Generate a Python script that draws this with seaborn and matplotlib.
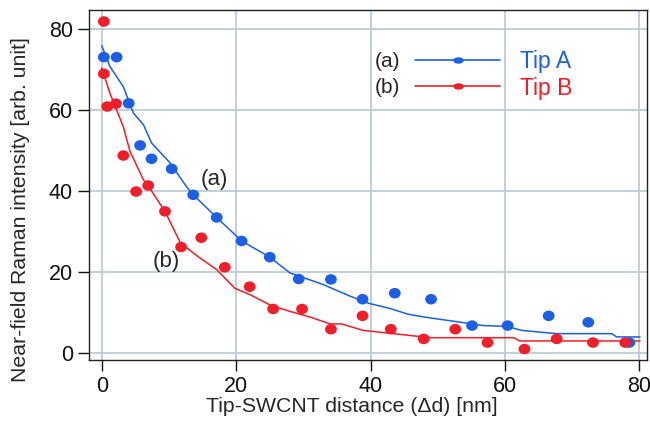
import pandas as pd
import seaborn as sns
import matplotlib.pyplot as plt
from matplotlib.lines import Line2D
from matplotlib.path import Path
from matplotlib.transforms import Affine2D

# measured points
tip_a_x = [0.3, 2.2, 4.0, 5.7, 7.4, 10.4, 13.6, 17.1, 20.8, 25.0, 29.3, 34.1,
           38.8, 43.6, 49.0, 55.1, 60.4, 66.5, 72.4, 78.5]
tip_a_y = [73.1, 73.1, 61.7, 51.3, 48.0, 45.5, 39.1, 33.5, 27.7, 23.7, 18.3, 18.2,
           13.3, 14.8, 13.3, 6.8, 6.8, 9.2, 7.6, 2.6]

tip_b_x = [0.3, 0.3, 0.8, 2.1, 3.2, 5.1, 6.9, 9.4, 11.8, 14.8, 18.3, 22.0, 25.5,
           29.8, 34.1, 38.8, 43.0, 47.9, 52.6, 57.4, 62.9, 67.7, 73.1, 77.9]
tip_b_y = [81.9, 69.0, 60.9, 61.6, 48.8, 39.9, 41.4, 35.0, 26.2, 28.5, 21.2, 16.4, 10.9,
           10.9, 5.9, 9.2, 5.9, 3.5, 5.9, 2.6, 1.0, 3.5, 2.6, 2.6]

# fitted curves
fit_a_x = [0.0, 1.2, 3.2, 4.7, 6.2, 7.4, 10.2, 12.6, 13.6, 17.1, 20.8, 25.0, 28.0,
           33.0, 34.5, 36.9, 39.7, 42.7, 45.6, 48.4, 51.8, 56.8, 60.3, 62.5, 67.7,
           75.9, 76.6, 80.1]
fit_a_y = [75.9, 70.8, 65.8, 59.3, 56.4, 51.9, 46.9, 41.1, 39.1, 33.5, 27.7, 23.7, 19.8,
           16.9, 15.8, 14.1, 12.3, 11.1, 9.6, 8.8, 8.0, 6.8, 6.6, 5.6, 4.8,
           4.8, 4.0, 4.0]

fit_b_x = [0.0, 1.2, 3.2, 4.2, 6.2, 6.9, 9.4, 11.7, 14.6, 17.1, 19.8, 22.1, 25.0,
           28.0, 31.0, 34.0, 35.7, 38.9, 43.4, 48.9, 61.3, 62.2, 80.1]
fit_b_y = [70.4, 64.2, 55.9, 49.8, 42.8, 41.3, 35.0, 27.2, 23.5, 20.6, 16.0, 14.4, 11.9,
           10.3, 8.9, 7.2, 7.2, 5.6, 4.8, 3.8, 3.8, 3.0, 3.0]

blue = '#1d5ee6'
red = '#f01e28'

# slightly flattened dots like the original
dot = Path.unit_circle().transformed(Affine2D().scale(1.12, 1.0))
small_dot = Path.unit_circle().transformed(Affine2D().scale(1.8, 1.0))

sns.set_style('ticks')
plt.rcParams['font.family'] = ['Liberation Sans', 'DejaVu Sans']

fig = plt.figure(figsize=(6.5, 4.24), dpi=100)
ax = fig.add_axes([0.137, 0.151, 0.858, 0.825])

ax.grid(True, color='#bccbd6', linewidth=1.3)
ax.set_axisbelow(True)

sns.lineplot(x=fit_a_x, y=fit_a_y, color=blue, linewidth=1.1, ax=ax, sort=False)
sns.lineplot(x=fit_b_x, y=fit_b_y, color=red, linewidth=1.1, ax=ax, sort=False)
sns.scatterplot(x=tip_a_x, y=tip_a_y, color=blue, s=72, marker=dot, edgecolor='none', ax=ax, zorder=3)
sns.scatterplot(x=tip_b_x, y=tip_b_y, color=red, s=72, marker=dot, edgecolor='none', ax=ax, zorder=3)

ax.set_xlim(-1.9, 81.1)
ax.set_ylim(-1.7, 84.7)
ax.set_xticks([0, 20, 40, 60, 80])
ax.set_yticks([0, 20, 40, 60, 80])
ax.tick_params(direction='out', length=8, width=1, labelsize=15.5, colors='#111111')
for sp in ax.spines.values():
    sp.set_visible(True)
    sp.set_color('#222222')
    sp.set_linewidth(1.0)

ax.set_xlabel('Tip-SWCNT distance (Δd) [nm]', fontsize=15.3)
ax.set_ylabel('Near-field Raman intensity [arb. unit]', fontsize=15.3)
ax.xaxis.set_label_coords(0.471, -0.105)
ax.yaxis.set_label_coords(-0.106, 0.43)

ax.text(16.7, 42.8, '(a)', fontsize=16, ha='center', va='center')
ax.text(9.6, 22.5, '(b)', fontsize=16, ha='center', va='center')

handles = [Line2D([], [], color=blue, linewidth=1.2, marker=small_dot, markersize=6.5),
           Line2D([], [], color=red, linewidth=1.2, marker=small_dot, markersize=6.5)]
leg = ax.legend(handles, ['(a)', '(b)'], loc='center left', bbox_to_anchor=(0.5125, 0.816),
                frameon=False, markerfirst=False, fontsize=15, handlelength=4.1,
                handletextpad=0.7, labelspacing=0.32, borderaxespad=0, borderpad=0)
ax.text(0.772, 0.854, 'Tip A', color=blue, fontsize=16.5, transform=ax.transAxes, va='center')
ax.text(0.772, 0.777, 'Tip B', color=red, fontsize=16.5, transform=ax.transAxes, va='center')

fig.savefig('out.png', dpi=100)
